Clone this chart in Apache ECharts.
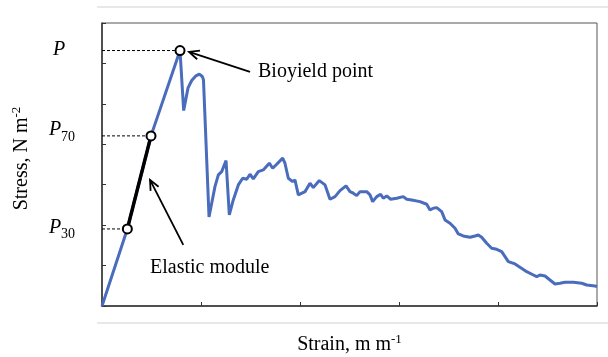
<!DOCTYPE html>
<html>
<head>
    <meta charset="utf-8">
    <title>Stress - Strain</title>
    <script src="https://cdn.jsdelivr.net/npm/echarts@6/dist/echarts.min.js"></script>
    <style type="text/css">
        * { margin: 0; padding: 0; }
        body { background: #fff; }
        #main { width: 608px; height: 357px; }
    </style>
</head>
<body>
<div id="main"></div>
<script type="text/javascript">
    // curve (strain, stress)
    var strain = [0, 0.256, 0.495, 0.788, 0.825, 0.869, 0.906, 0.949, 0.983, 1.013, 1.025, 1.081,
        1.141, 1.175, 1.209, 1.253, 1.286, 1.326, 1.377, 1.421, 1.462, 1.495, 1.528, 1.579, 1.629,
        1.690, 1.724, 1.765, 1.825, 1.848, 1.882, 1.926, 1.949, 1.983, 2.051, 2.101, 2.134, 2.195,
        2.253, 2.303, 2.354, 2.404, 2.465, 2.505, 2.538, 2.573, 2.606, 2.674, 2.707, 2.734, 2.775,
        2.815, 2.841, 2.876, 2.916, 2.977, 3.043, 3.078, 3.128, 3.212, 3.280, 3.313, 3.347, 3.381,
        3.431, 3.465, 3.515, 3.566, 3.599, 3.649, 3.717, 3.768, 3.801, 3.835, 3.886, 3.936, 3.987,
        4.037, 4.071, 4.104, 4.172, 4.222, 4.290, 4.357, 4.391, 4.424, 4.475, 4.525, 4.576, 4.626,
        4.677, 4.761, 4.846, 4.896, 4.980, 5.0];
    var stress = [0, 1.906, 4.208, 6.319, 4.834, 5.396, 5.577, 5.693, 5.735, 5.676, 5.594, 2.203,
        2.953, 3.243, 3.324, 3.597, 2.252, 2.624, 2.995, 3.161, 3.136, 3.260, 3.144, 3.324, 3.366,
        3.532, 3.408, 3.507, 3.658, 3.532, 3.161, 3.077, 3.119, 2.748, 2.829, 3.037, 2.928, 3.102,
        2.995, 2.641, 2.705, 2.854, 2.970, 2.829, 2.790, 2.730, 2.829, 2.829, 2.748, 2.582, 2.705,
        2.765, 2.666, 2.723, 2.641, 2.666, 2.705, 2.641, 2.624, 2.582, 2.517, 2.376, 2.418, 2.433,
        2.334, 2.129, 2.047, 1.923, 1.782, 1.733, 1.700, 1.733, 1.757, 1.700, 1.552, 1.428, 1.403,
        1.344, 1.220, 1.097, 1.040, 0.958, 0.849, 0.767, 0.725, 0.767, 0.743, 0.644, 0.545, 0.562,
        0.587, 0.587, 0.562, 0.520, 0.495, 0.480];

    // P30, P70, P (bioyield)
    var keyStrain = [0.256, 0.495, 0.788];
    var keyStress = [1.906, 4.208, 6.319];
    var keyLabels = [['P', '30'], ['P', '70'], ['P', '']];

    var serif = '"Liberation Serif", "Times New Roman", serif';
    var blue = '#4a6cbd';

    var chart = echarts.init(document.getElementById('main'));

    var curve = strain.map(function (x, i) { return [x, stress[i]]; });

    var series = [
        {
            type: 'line',
            data: curve,
            showSymbol: false,
            silent: true,
            lineStyle: { color: blue, width: 3 },
            z: 2
        },
        {
            type: 'line',
            data: [[keyStrain[0], keyStress[0]], [keyStrain[1], keyStress[1]]],
            showSymbol: false,
            silent: true,
            lineStyle: { color: '#000', width: 3.5 },
            z: 3
        }
    ];
    keyStrain.forEach(function (x, i) {
        series.push({
            type: 'line',
            data: [[0, keyStress[i]], [x, keyStress[i]]],
            showSymbol: false,
            silent: true,
            lineStyle: { color: '#000', width: 1, type: [3, 2] },
            z: 1
        });
    });
    series.push({
        type: 'scatter',
        data: keyStrain.map(function (x, i) { return [x, keyStress[i]]; }),
        symbol: 'circle',
        symbolSize: 9,
        silent: true,
        itemStyle: { color: '#fff', borderColor: '#000', borderWidth: 2, opacity: 1 },
        z: 5
    });

    var option = {
        animation: false,
        grid: {
            left: 102, right: 11, top: 23, bottom: 51,
            outerBoundsMode: 'none',
            containLabel: false,
            show: true, borderColor: '#555', borderWidth: 1
        },
        xAxis: {
            type: 'value',
            min: 0, max: 5, interval: 1,
            name: '{a|Strain, m m}{b|-1}',
            nameLocation: 'middle',
            nameGap: 27,
            nameTextStyle: {
                rich: {
                    a: { fontFamily: serif, fontSize: 20, color: '#000', lineHeight: 24 },
                    b: { fontFamily: serif, fontSize: 13, color: '#000', verticalAlign: 'top', lineHeight: 24 }
                }
            },
            axisLine: { lineStyle: { color: '#333', width: 1.5 } },
            axisTick: { inside: true, length: 4, lineStyle: { color: '#333' } },
            axisLabel: { show: false },
            splitLine: { show: false }
        },
        yAxis: {
            type: 'value',
            min: 0, max: 7, interval: 1,
            name: '{a|Stress, N m}{b|-2}',
            nameLocation: 'middle',
            nameRotate: 90,
            nameGap: 68,
            nameTextStyle: {
                padding: [0, 0, 0, 12],
                rich: {
                    a: { fontFamily: serif, fontSize: 20, color: '#000', lineHeight: 24 },
                    b: { fontFamily: serif, fontSize: 13, color: '#000', verticalAlign: 'top', lineHeight: 24 }
                }
            },
            axisLine: { lineStyle: { color: '#333', width: 1.5 } },
            axisTick: { inside: true, length: 4, lineStyle: { color: '#333' } },
            axisLabel: { show: false },
            splitLine: { show: false }
        },
        series: series
    };
    chart.setOption(option);

    // annotations, placed through the chart's own scale
    function px(x, y) {
        return chart.convertToPixel({ gridIndex: 0 }, [x, y]);
    }

    function arrow(from, to) {
        var a = px(from[0], from[1]), b = px(to[0], to[1]);
        var ang = Math.atan2(a[1] - b[1], a[0] - b[0]);
        var len = 11, spread = 0.42;
        var h1 = [b[0] + len * Math.cos(ang + spread), b[1] + len * Math.sin(ang + spread)];
        var h2 = [b[0] + len * Math.cos(ang - spread), b[1] + len * Math.sin(ang - spread)];
        return [
            { type: 'line', shape: { x1: a[0], y1: a[1], x2: b[0], y2: b[1] }, style: { stroke: '#000', lineWidth: 1.8 }, z: 10 },
            { type: 'polyline', shape: { points: [h1, b, h2] }, style: { stroke: '#000', lineWidth: 1.8, fill: null }, z: 10 }
        ];
    }

    function label(text, x, y) {
        var p = px(x, y);
        return {
            type: 'text', x: p[0], y: p[1], z: 10,
            style: { text: text, fontFamily: serif, fontSize: 20, fill: '#000', verticalAlign: 'middle' }
        };
    }

    var graphics = [];
    graphics = graphics.concat(arrow([1.495, 5.792], [0.879, 6.287]));
    graphics = graphics.concat(arrow([0.821, 1.510], [0.485, 3.119]));
    graphics.push(label('Bioyield point', 1.576, 5.792));
    graphics.push(label('Elastic module', 0.485, 0.941));

    // P labels left of the axis
    var pOffsets = [[49, -1, 5], [49, -6, 1.5], [53, -1, 0]];
    keyLabels.forEach(function (lb, i) {
        var y = px(0, keyStress[i])[1];
        var o = pOffsets[i];
        graphics.push({
            type: 'text', x: o[0], y: y + o[1],
            style: { text: lb[0], fontFamily: serif, fontStyle: 'italic', fontSize: 20, fill: '#000', verticalAlign: 'middle' }
        });
        if (lb[1]) {
            graphics.push({
                type: 'text', x: o[0] + 12, y: y + o[2],
                style: { text: lb[1], fontFamily: serif, fontSize: 14, fill: '#000', verticalAlign: 'middle' }
            });
        }
    });

    // faint rules above and below the figure
    graphics.push({ type: 'line', shape: { x1: 97, y1: 7, x2: 608, y2: 7 }, style: { stroke: '#e8e8e8', lineWidth: 2 } });
    graphics.push({ type: 'line', shape: { x1: 97, y1: 323, x2: 608, y2: 323 }, style: { stroke: '#e8e8e8', lineWidth: 2 } });

    chart.setOption({ graphic: graphics });
</script>
</body>
</html>
